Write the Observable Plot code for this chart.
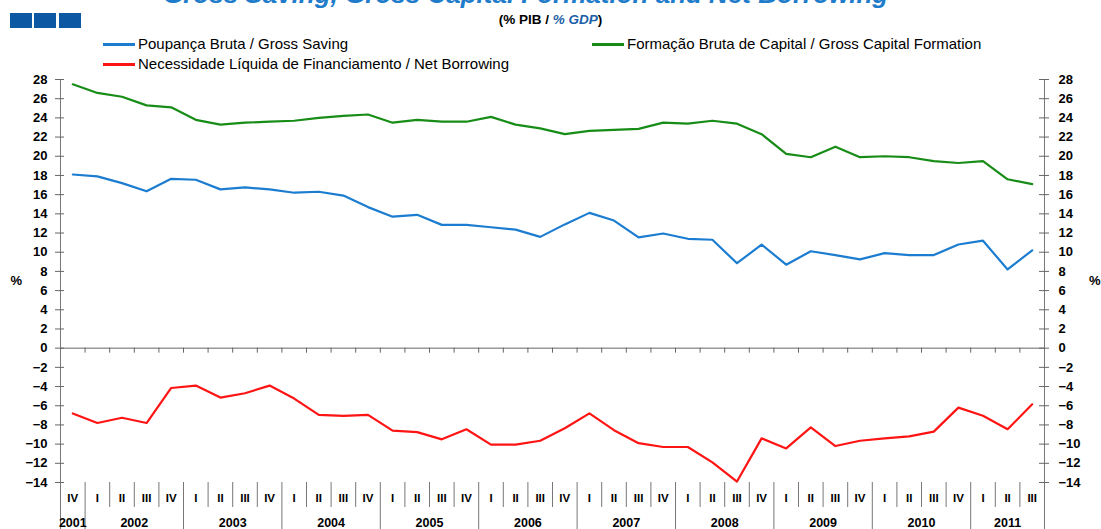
<!DOCTYPE html>
<html>
<head>
<meta charset="utf-8">
<script src="https://cdn.jsdelivr.net/npm/d3@7"></script>
<script src="https://cdn.jsdelivr.net/npm/@observablehq/plot@0.6"></script>
<style>
  html, body { margin: 0; padding: 0; background: #fff; }
  body { width: 1101px; height: 529px; overflow: hidden; font-family: "Liberation Sans", Arial, sans-serif; }
  #header { position: relative; width: 1101px; height: 70px; }
  .sq { position: absolute; top: 13px; width: 22px; height: 15px; background: #0d58a3; }
  #title { position: absolute; left: 163px; top: -19px; font-size: 26px; line-height: 26px; font-weight: bold; font-style: italic; color: #1f7ccb; white-space: nowrap; }
  #subtitle { position: absolute; left: 0; width: 1101px; top: 12px; text-align: center; font-size: 13.5px; font-weight: bold; line-height: 16px; }
  #subtitle span { color: #1a5fa8; font-style: italic; }
  .leg { position: absolute; font-size: 15px; line-height: 18px; white-space: nowrap; color: #000; }
  .sw { display: inline-block; width: 32px; height: 3px; vertical-align: middle; margin-right: 3px; position: relative; top: -1px; }
  #chart { display: block; }
</style>
</head>
<body>
<div id="header">
  <div id="title">Gross Saving, Gross Capital Formation and Net Borrowing</div>
  <div class="sq" style="left:10px"></div>
  <div class="sq" style="left:34px"></div>
  <div class="sq" style="left:59px"></div>
  <div id="subtitle">(% PIB / <span>% GDP</span>)</div>
  <div class="leg" style="left:103px; top:35px"><span class="sw" style="background:#1c7dd0"></span>Poupança Bruta / Gross Saving</div>
  <div class="leg" style="left:592px; top:35px"><span class="sw" style="background:#178c17"></span>Formação Bruta de Capital / Gross Capital Formation</div>
  <div class="leg" style="left:103px; top:55px"><span class="sw" style="background:#ff1414"></span>Necessidade Líquida de Financiamento / Net Borrowing</div>
</div>
<div id="chart"></div>
<script>
// Quarter labels (2001 IV .. 2011 III)
const quarterLabels = ["IV",
  "I","II","III","IV", "I","II","III","IV", "I","II","III","IV",
  "I","II","III","IV", "I","II","III","IV", "I","II","III","IV",
  "I","II","III","IV", "I","II","III","IV", "I","II","III","IV",
  "I","II","III"];
const years = ["2001","2002","2003","2004","2005","2006","2007","2008","2009","2010","2011"];

const grossSaving = [18.1, 17.9, 17.2, 16.35, 17.65, 17.55, 16.55, 16.75, 16.55, 16.2,
  16.3, 15.9, 14.7, 13.7, 13.9, 12.85, 12.85, 12.6, 12.35, 11.6,
  12.9, 14.1, 13.3, 11.55, 11.95, 11.4, 11.3, 8.85, 10.8, 8.7,
  10.1, 9.7, 9.25, 9.9, 9.7, 9.7, 10.8, 11.2, 8.2, 10.2];
const capitalFormation = [27.5, 26.6, 26.2, 25.3, 25.1, 23.8, 23.3, 23.5, 23.6, 23.7,
  24.0, 24.2, 24.35, 23.5, 23.8, 23.6, 23.6, 24.1, 23.3, 22.9,
  22.3, 22.65, 22.75, 22.85, 23.5, 23.4, 23.7, 23.4, 22.3, 20.25,
  19.9, 21.0, 19.9, 20.0, 19.9, 19.5, 19.3, 19.5, 17.6, 17.1];
const netBorrowing = [-6.8, -7.8, -7.25, -7.8, -4.15, -3.9, -5.15, -4.7, -3.9, -5.25,
  -6.95, -7.05, -6.95, -8.6, -8.75, -9.5, -8.45, -10.05, -10.05, -9.65,
  -8.35, -6.8, -8.55, -9.9, -10.3, -10.3, -11.9, -13.9, -9.4, -10.45,
  -8.25, -10.2, -9.65, -9.4, -9.2, -8.7, -6.2, -7.05, -8.45, -5.85];

const yDomain = [-14, 28];
const yTicks = d3.range(-14, 29, 2);

const colors = { saving: "#1c7dd0", formation: "#178c17", borrowing: "#ff1414" };

// Build helper tables
const idx = quarterLabels.map((q, i) => i);
let yr = 0;
const quarterYear = quarterLabels.map((q, i) => { if (i > 0 && q === "I") yr++; return yr; });
const yearCenters = years.map((y, k) => {
  const ii = idx.filter(i => quarterYear[i] === k);
  return { year: y, x: (ii[0] + ii[ii.length - 1]) / 2 };
});
const bounds = idx.slice(1).map(i => ({ x: i - 0.5, yearBreak: quarterYear[i] !== quarterYear[i - 1] }));

const W = 1101, H = 459, mL = 60, mR = 57, mT = 9, mB = 47;
const frameW = W - mL - mR;
const xDomain = [-0.5, quarterLabels.length - 0.5];

const chart = Plot.plot({
  width: W,
  height: H,
  marginLeft: mL,
  marginRight: mR,
  marginTop: mT,
  marginBottom: mB,
  style: { fontFamily: "'Liberation Sans', Arial, sans-serif", background: "#fff", overflow: "visible" },
  x: { type: "linear", domain: xDomain, axis: null },
  y: { domain: yDomain, axis: null },
  marks: [
    Plot.ruleX([xDomain[0], xDomain[1]], { stroke: "#777", strokeWidth: 1, insetBottom: -mB }),
    Plot.ruleY([0], { stroke: "#666", strokeWidth: 1 }),
    Plot.ruleX(bounds, { x: "x", y1: 0, y2: 0, insetBottom: -5, stroke: "#666" }),
    Plot.ruleX(bounds.filter(d => !d.yearBreak), { x: "x", y1: yDomain[0], y2: yDomain[0], insetBottom: -25, stroke: "#777" }),
    Plot.ruleX(bounds.filter(d => d.yearBreak), { x: "x", y1: yDomain[0], y2: yDomain[0], insetBottom: -mB, stroke: "#777" }),
    Plot.tickY(yTicks, { y: d => d, insetLeft: -5, insetRight: frameW - 4, stroke: "#666" }),
    Plot.tickY(yTicks, { y: d => d, insetLeft: frameW - 5, insetRight: -5, stroke: "#666" }),
    Plot.axisY(yTicks, { anchor: "left", tickSize: 0, tickPadding: 13, fontSize: 13, fontWeight: "bold", fill: "#000" }),
    Plot.axisY(yTicks, { anchor: "right", tickSize: 0, tickPadding: 14, fontSize: 13, fontWeight: "bold", fill: "#000" }),
    Plot.text(["%"], { frameAnchor: "left", dx: -50, fontSize: 13, fontWeight: "bold", fill: "#000" }),
    Plot.text(["%"], { frameAnchor: "right", dx: 56, fontSize: 13, fontWeight: "bold", fill: "#000" }),
    Plot.text(idx, { x: d => d, y: yDomain[0], text: d => quarterLabels[d], dy: 16, fontSize: 11.5, fontWeight: "bold", fill: "#000" }),
    Plot.text(yearCenters, { x: "x", y: yDomain[0], text: "year", dy: 40, fontSize: 12.5, fontWeight: "bold", fill: "#000" }),
    Plot.line(idx, { x: d => d, y: d => capitalFormation[d], stroke: colors.formation, strokeWidth: 2.2 }),
    Plot.line(idx, { x: d => d, y: d => grossSaving[d], stroke: colors.saving, strokeWidth: 2.2 }),
    Plot.line(idx, { x: d => d, y: d => netBorrowing[d], stroke: colors.borrowing, strokeWidth: 2.2 })
  ]
});
document.getElementById("chart").appendChild(chart);
</script>
</body>
</html>
